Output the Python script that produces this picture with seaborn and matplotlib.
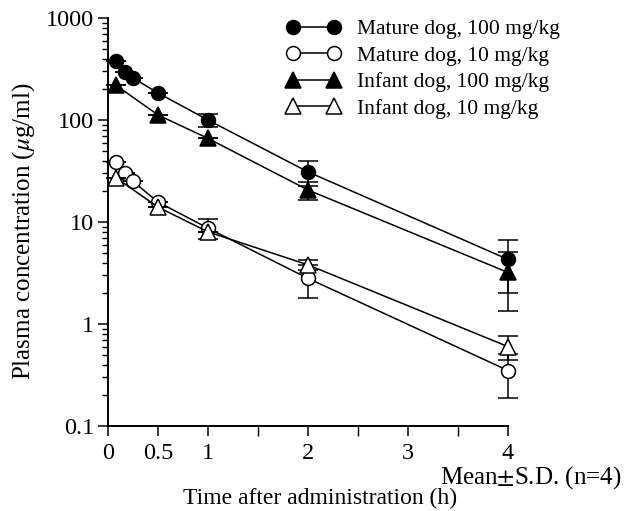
import matplotlib
matplotlib.use("Agg")
import matplotlib.pyplot as plt
import seaborn as sns
import numpy as np
import pandas as pd
from matplotlib.ticker import LogLocator, FixedLocator, NullFormatter

# ---- data ----
t_mature = [0.083, 0.167, 0.25, 0.5, 1, 2, 4]
t_infant = [0.083, 0.5, 1, 2, 4]

mature100_mean = [380, 295, 258, 184, 100, 31, 4.3]
mature100_sd = [0, 0, 0, 0, 15, 8.5, 2.3]
mature10_mean = [39, 30, 25, 15.7, 8.7, 2.8, 0.35]
mature10_sd = [0, 0, 0, 0, 1.9, 1.0, 0.16]
infant100_mean = [218, 112, 66, 20.6, 3.2]
infant100_sd = [0, 0, 0, 4.2, 1.85]
infant10_mean = [27, 14, 8.0, 3.8, 0.6]
infant10_sd = [0, 0, 0, 0.4, 0.16]

labels = ["Mature dog, 100 mg/kg", "Mature dog, 10 mg/kg",
          "Infant dog, 100 mg/kg", "Infant dog, 10 mg/kg"]
x_ticks = [0, 0.5, 1, 2, 3, 4]
x_ticklabels = ["0", "0.5", "1", "2", "3", "4"]
y_ticks = [0.1, 1, 10, 100, 1000]
y_ticklabels = ["0.1", "1", "10", "100", "1000"]

sns.set_theme(style="ticks")
plt.rcParams["font.family"] = ["Liberation Serif", "DejaVu Serif"]
plt.rcParams["mathtext.fontset"] = "stix"

fig = plt.figure(figsize=(6.24, 5.11), dpi=100)
ax = fig.add_axes([108/624, 85/511, 400/624, 408/511])

series = [
    (t_mature, mature100_mean, mature100_sd, "o", "black"),
    (t_mature, mature10_mean, mature10_sd, "o", "white"),
    (t_infant, infant100_mean, infant100_sd, "^", "black"),
    (t_infant, infant10_mean, infant10_sd, "^", "white"),
]

for i, (t, m, s, mk, fc) in enumerate(series):
    df = pd.DataFrame({"t": t, "c": m, "sd": s})
    eb = ax.errorbar(df["t"], df["c"], yerr=df["sd"], fmt="none", ecolor="black",
                     elinewidth=1.1, capsize=7.5, capthick=1.1, zorder=2 + i)
    for art in eb.lines[1] + eb.lines[2]:
        art.set_clip_on(False)
    sns.lineplot(data=df, x="t", y="c", ax=ax, color="black", linewidth=1.1,
                 marker=mk, markersize=10 if mk == "o" else 11,
                 markerfacecolor=fc, markeredgecolor="black", markeredgewidth=1.1,
                 label=labels[i], zorder=3 + i, clip_on=False)

ax.set_yscale("log")
ax.set_ylim(0.1, 1000)
ax.set_xlim(0, 4)
ax.yaxis.set_major_locator(FixedLocator(y_ticks))
ax.set_yticklabels(y_ticklabels)
ax.yaxis.set_minor_locator(LogLocator(base=10, subs=np.arange(2, 10)))
ax.yaxis.set_minor_formatter(NullFormatter())
ax.xaxis.set_major_locator(FixedLocator(x_ticks))
ax.set_xticklabels(x_ticklabels)
ax.xaxis.set_minor_locator(FixedLocator([1.5, 2.5, 3.5]))

ax.tick_params(axis="both", which="major", direction="out", length=7, width=1.1,
               labelsize=17.5, color="black", labelcolor="black")
ax.tick_params(axis="y", which="minor", direction="out", length=4, width=1.0, color="black")
ax.tick_params(axis="x", which="minor", direction="out", length=7, width=1.0, color="black")
ax.tick_params(axis="x", pad=5)
ax.tick_params(axis="y", pad=3)

for side in ["top", "right"]:
    ax.spines[side].set_visible(False)
for side in ["left", "bottom"]:
    ax.spines[side].set_color("black")
    ax.spines[side].set_linewidth(1.4)

ax.set_xlabel("Time after administration (h)", fontsize=17, color="black")
ax.xaxis.set_label_coords(0.529, -0.152)
ax.set_ylabel(r"Plasma concentration ($\mu$g/ml)", fontsize=18, color="black")
ax.yaxis.set_label_coords(-0.177, 0.478)

fig.text(621/624, 1 - 478/511, r"Mean$\pm$S.D. (n=4)", ha="right", va="center",
         fontsize=18, color="black")

leg = ax.legend(loc="upper left", bbox_to_anchor=(286.5/624, 1 - 19/511),
                bbox_transform=fig.transFigure, frameon=False, fontsize=15.5,
                numpoints=2, handlelength=2.5, handletextpad=0.77,
                labelspacing=0.3, borderpad=0, borderaxespad=0)
for txt in leg.get_texts():
    txt.set_color("black")

fig.savefig("out.png", dpi=100, facecolor="white")
